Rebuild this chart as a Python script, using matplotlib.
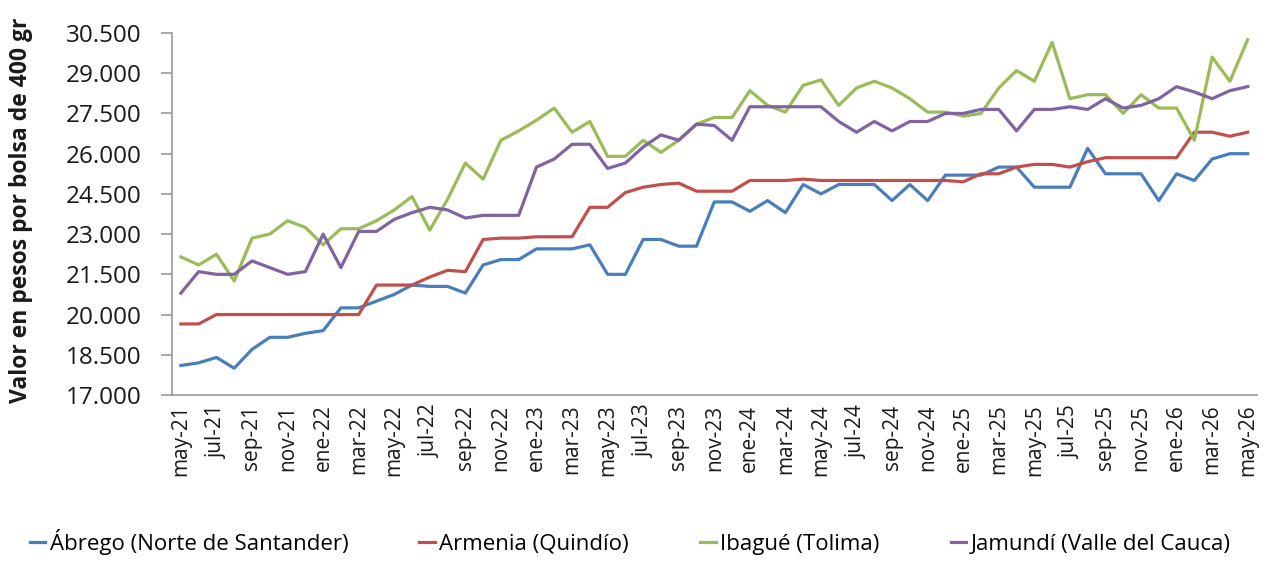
import matplotlib.pyplot as plt
from matplotlib.ticker import FuncFormatter

plt.rcParams['font.family'] = ['Open Sans', 'DejaVu Sans']

meses = ['ene', 'feb', 'mar', 'abr', 'may', 'jun', 'jul', 'ago', 'sep', 'oct', 'nov', 'dic']
# may-21 .. may-26
fechas = []
for k in range(61):
    m = (4 + k) % 12
    a = 21 + (4 + k) // 12
    fechas.append('%s-%d' % (meses[m], a))

abrego = [18100, 18200, 18400, 18000, 18700, 19150, 19150, 19300, 19400, 20250,
          20250, 20500, 20750, 21100, 21050, 21050, 20800, 21850, 22050, 22050,
          22450, 22450, 22450, 22600, 21500, 21500, 22800, 22800, 22550, 22550,
          24200, 24200, 23850, 24250, 23800, 24850, 24500, 24850, 24850, 24850,
          24250, 24850, 24250, 25200, 25200, 25200, 25500, 25500, 24750, 24750,
          24750, 26200, 25250, 25250, 25250, 24250, 25250, 25000, 25800, 26000,
          26000]
armenia = [19650, 19650, 20000, 20000, 20000, 20000, 20000, 20000, 20000, 20000,
           20000, 21100, 21100, 21100, 21400, 21650, 21600, 22800, 22850, 22850,
           22900, 22900, 22900, 24000, 24000, 24550, 24750, 24850, 24900, 24600,
           24600, 24600, 25000, 25000, 25000, 25050, 25000, 25000, 25000, 25000,
           25000, 25000, 25000, 25000, 24950, 25250, 25250, 25500, 25600, 25600,
           25500, 25700, 25850, 25850, 25850, 25850, 25850, 26800, 26800, 26650,
           26800]
ibague = [22150, 21850, 22250, 21250, 22850, 23000, 23500, 23250, 22600, 23200,
          23200, 23500, 23900, 24400, 23150, 24300, 25650, 25050, 26500, 26850,
          27250, 27700, 26800, 27200, 25900, 25900, 26500, 26050, 26500, 27100,
          27350, 27350, 28350, 27800, 27550, 28550, 28750, 27800, 28450, 28700,
          28450, 28050, 27550, 27550, 27400, 27500, 28450, 29100, 28700, 30150,
          28050, 28200, 28200, 27500, 28200, 27700, 27700, 26500, 29600, 28700,
          30250]
jamundi = [20800, 21600, 21500, 21500, 22000, 21750, 21500, 21600, 23000, 21750,
           23100, 23100, 23550, 23800, 24000, 23900, 23600, 23700, 23700, 23700,
           25500, 25800, 26350, 26350, 25450, 25650, 26250, 26700, 26500, 27100,
           27050, 26500, 27750, 27750, 27750, 27750, 27750, 27200, 26800, 27200,
           26850, 27200, 27200, 27500, 27500, 27650, 27650, 26850, 27650, 27650,
           27750, 27650, 28050, 27700, 27800, 28050, 28500, 28300, 28050, 28350,
           28500]

series = [('Ábrego (Norte de Santander)', abrego, '#4a7ebb'),
          ('Armenia (Quindío)', armenia, '#c0504d'),
          ('Ibagué (Tolima)', ibague, '#9bbb59'),
          ('Jamundí (Valle del Cauca)', jamundi, '#8064a2')]

fig = plt.figure(figsize=(12.73, 5.69), dpi=100)
ax = fig.add_axes([0.1351, 0.3058, 0.852, 0.6362])

x = list(range(len(fechas)))
for nombre, valores, color in series:
    ax.plot(x, valores, color=color, linewidth=2.3, label=nombre)

ax.set_xlim(-0.5, len(fechas) - 0.5)
ax.set_ylim(17000, 30500)
ax.set_yticks(range(17000, 30501, 1500))
ax.yaxis.set_major_formatter(FuncFormatter(lambda v, p: '{:,.0f}'.format(v).replace(',', '.')))
ax.set_xticks(x[::2])
ax.set_xticklabels(fechas[::2], rotation=90)

for s in ['top', 'right']:
    ax.spines[s].set_visible(False)
for s in ['left', 'bottom']:
    ax.spines[s].set_color('#9a9a9a')
    ax.spines[s].set_linewidth(1.2)
ax.tick_params(axis='y', length=8, width=1.2, color='#9a9a9a', pad=14,
               labelsize=17.5, labelcolor='#1a1a1a')
ax.tick_params(axis='x', length=0, pad=7, labelsize=15, labelcolor='#1a1a1a')

ax.set_ylabel('Valor en pesos por bolsa de 400 gr', fontsize=16.5, fontweight='bold',
              color='#1a1a1a')
ax.yaxis.set_label_coords(-0.128, 0.51)

fig.legend(loc='lower center', bbox_to_anchor=(0.495, -0.01), ncol=4, frameon=False,
           fontsize=16, handlelength=0.7, handletextpad=0.2, columnspacing=3.2)

plt.savefig('out.png', dpi=100)
